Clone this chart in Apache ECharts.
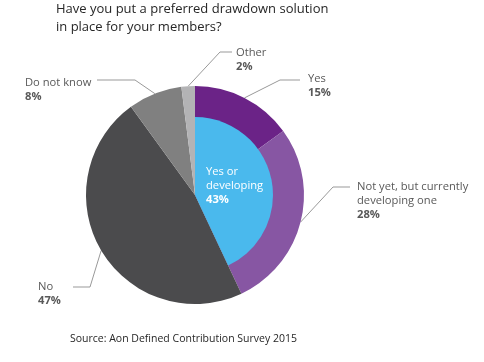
<!DOCTYPE html>
<html>
<head>
<meta charset="utf-8">
<script src="https://cdn.jsdelivr.net/npm/echarts@6/dist/echarts.min.js"></script>
<style>html,body{margin:0;padding:0;background:#fff;}#c{width:484px;height:362px;}</style>
</head>
<body>
<div id="c"></div>
<script>
// ---- data ----
var outerNames = ['Yes', 'Not yet, but currently\ndeveloping one', 'No', 'Do not know', 'Other'];
var outerValues = [15, 28, 47, 8, 2];
var innerNames = ['Yes or\ndeveloping', ''];
var innerValues = [43, 57];
var titleText = 'Have you put a preferred drawdown solution\nin place for your members?';
var sourceText = 'Source: Aon Defined Contribution Survey 2015';

// ---- styles ----
var outerColors = ['#6b2387', '#8756a3', '#4b4b4d', '#808080', '#b3b3b5'];
var innerColors = ['#4ab9ed', 'rgba(0,0,0,0)'];
var FONT = '"Open Sans", sans-serif';
// label layout: [textX, textY, elbowX, elbowY, endX, align]
var labelPos = [
  [308, 72, 280, 80, 300, 'left'],
  [357, 180, 333, 187, 350, 'left'],
  [38, 280, 90, 287, 73, 'left'],
  [25, 76, 135, 80, 97, 'left'],
  [236, 46, 220, 52, 232, 'left']
];

var chart = echarts.init(document.getElementById('c'));
chart.setOption({
  animation: false,
  title: [{
    text: titleText, left: 56, top: 0, padding: 0,
    textStyle: {fontFamily: FONT, fontSize: 13, fontWeight: 'normal', color: '#262626', lineHeight: 18}
  }, {
    text: sourceText, left: 70, top: 334, padding: 0,
    textStyle: {fontFamily: FONT, fontSize: 10.5, fontWeight: 'normal', color: '#262626'}
  }],
  series: [{
    type: 'pie',
    center: [195, 195],
    radius: [0, 109],
    startAngle: 90,
    clockwise: true,
    silent: true,
    data: outerNames.map(function (n, i) {
      return {name: n, value: outerValues[i], itemStyle: {color: outerColors[i]}};
    }),
    label: {
      show: true,
      fontFamily: FONT,
      formatter: function (p) { return '{n|' + p.name + '}\n{v|' + p.value + '%}'; },
      rich: {
        n: {fontFamily: FONT, fontSize: 11.2, color: '#595959', lineHeight: 14},
        v: {fontFamily: FONT, fontSize: 11.2, fontWeight: 'bold', color: '#595959', lineHeight: 14}
      }
    },
    labelLine: {show: true, lineStyle: {color: '#999999', width: 1}, smooth: false},
    labelLayout: function (params) {
      var lp = labelPos[params.dataIndex];
      var start = params.labelLinePoints ? params.labelLinePoints[0] : [lp[2], lp[3]];
      return {
        x: lp[0], y: lp[1], align: lp[5], verticalAlign: 'top',
        labelLinePoints: [start, [lp[2], lp[3]], [lp[4], lp[3]]]
      };
    }
  }, {
    type: 'pie',
    center: [195, 195],
    radius: [0, 78],
    startAngle: 90,
    clockwise: true,
    silent: true,
    data: innerNames.map(function (n, i) {
      return {name: n, value: innerValues[i], itemStyle: {color: innerColors[i]},
        label: {show: i === 0}};
    }),
    label: {
      position: 'inside',
      formatter: function (p) { return '{n|' + p.name + '}\n{v|' + p.value + '%}'; },
      rich: {
        n: {fontFamily: FONT, fontSize: 11.2, color: '#ffffff', lineHeight: 14, align: 'left'},
        v: {fontFamily: FONT, fontSize: 11.2, fontWeight: 'bold', color: '#ffffff', lineHeight: 14, align: 'left'}
      }
    },
    labelLine: {show: false},
    labelLayout: function (params) {
      return {x: 206, y: 165, align: 'left', verticalAlign: 'top'};
    }
  }]
});
</script>
</body>
</html>
